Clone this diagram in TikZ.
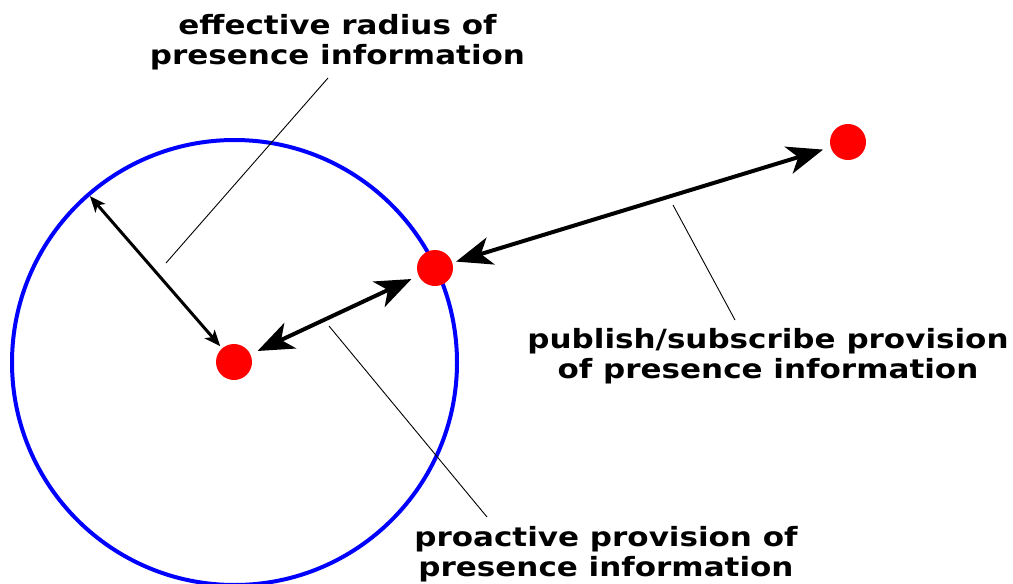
\documentclass[tikz,border=0pt]{standalone}
\usepackage{fontspec}
\newfontfamily\labelfont[FakeStretch=1.17]{DejaVu Sans Bold}
\usetikzlibrary{arrows.meta}
\begin{document}
\begin{tikzpicture}[x=1pt,y=-1pt,
  dot/.style={circle, fill=red, inner sep=0pt, outer sep=0pt, minimum size=36pt},
  bighead/.tip={Stealth[length=36pt,width=28pt,inset=10pt]},
  smallhead/.tip={Stealth[length=16pt,width=13pt,inset=4pt]},
  bigarrow/.style={line width=4pt, bighead-bighead},
  smallarrow/.style={line width=3pt, smallhead-smallhead},
  leader/.style={line width=0.9pt},
  caption/.style={font=\labelfont\fontsize{26.5}{30}\selectfont, align=center, anchor=base, inner sep=0pt}]
\useasboundingbox (0,0) rectangle (1013,584);

% range of the presence information
\node[circle, draw=blue, line width=4pt, minimum size=445pt, inner sep=0pt, outer sep=0pt] (zone) at (234.5,362.5) {};

% devices
\node[dot] (centre) at (234,362) {};
\node[dot] (edge) at (435,268) {};
\node[dot] (remote) at (848,142) {};

% radius, proactive and publish/subscribe links
\draw[smallarrow, shorten <=2pt, shorten >=3pt] (zone.131) -- (centre);
\draw[bigarrow, shorten <=8pt, shorten >=8pt] (centre) -- (edge);
\draw[bigarrow, shorten <=4pt, shorten >=8pt] (edge) -- (remote);

% captions (the base anchor sits on the last line)
\node[caption] (radiuslabel) at (337.5,64) {effective radius of\\presence information};
\node[caption] (pubsublabel) at (768,378) {publish/subscribe provision\\of presence information};
\node[caption] (proactivelabel) at (606,576) {proactive provision of\\presence information};

% leader lines
\coordinate (radiusfoot) at (166,263);
\coordinate (radiustop) at (328,78);
\coordinate (proactivefoot) at (329,326);
\coordinate (proactivetop) at (487,517);
\coordinate (pubsubfoot) at (673,205);
\coordinate (pubsubtop) at (735,320);
\draw[leader] (radiustop) -- (radiusfoot);
\draw[leader] (proactivefoot) -- (proactivetop);
\draw[leader] (pubsubfoot) -- (pubsubtop);
\end{tikzpicture}
\end{document}
